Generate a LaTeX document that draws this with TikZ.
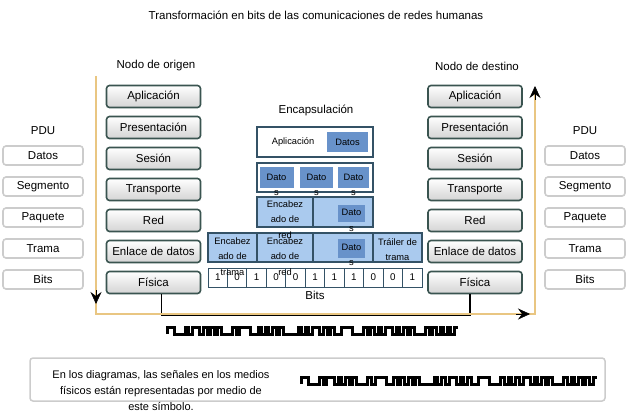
\documentclass[tikz,border=0pt]{standalone}
\usepackage{fontspec}
\setmainfont{Liberation Sans}
\usepackage{tikz}
\usetikzlibrary{positioning,calc,arrows.meta}
\definecolor{layerEdge}{RGB}{58,84,80}
\definecolor{pduEdge}{RGB}{204,204,204}
\definecolor{encEdge}{RGB}{52,82,102}
\definecolor{encLight}{RGB}{170,202,238}
\definecolor{encDark}{RGB}{104,146,202}
\definecolor{flowColor}{RGB}{233,198,130}
\newcommand{\sigbits}{1,1,0,0,0,1,0,1,1,0,1,0,1,0,1,0,0,0,1,0,1,1,1,0,0,1,0,1,0,1,0,1,0,0,0,0,1,0,1,0,1,1,0,1,0,1,0,0,1,1,1,0,0,0,1,0,1,0,1,0,1,1,0,1,0,1,0,1,0,0,0,1,0,1,0,1,0,1,0,1}
% signal symbol: start x, low level y, step
\newcommand{\drawsignal}[3]{%
  \draw[wave] (#1,#2) foreach \lv [count=\k] in \sigbits { |- ({#1+\k*#3},{#2-6.5*\lv}) };}
\tikzset{
    layer/.style={
        draw=layerEdge,
        line width=1.6pt,
        rounded corners=3pt,
        top color=white,
        bottom color=black!17,
        minimum width=94pt,
        minimum height=22pt,
        inner sep=1pt,
        font=\fontsize{11.5}{13}\selectfont
    },
    pdu/.style={
        draw=pduEdge,
        line width=1.6pt,
        rounded corners=3pt,
        fill=white,
        minimum width=80pt,
        minimum height=19pt,
        inner sep=1pt,
        font=\fontsize{11.5}{13}\selectfont
    },
    plain/.style={font=\fontsize{11.5}{13}\selectfont, inner sep=1pt},
    encbox/.style={draw=encEdge, line width=1.3pt, inner sep=0pt},
    datbox/.style={fill=encDark, inner sep=0pt},
    enctxt/.style={font=\fontsize{9.3}{15.5}\selectfont, align=center, inner sep=0pt},
    bitcell/.style={draw=encEdge, line width=0.9pt, fill=white, minimum width=19.45pt,
        minimum height=19pt, inner sep=0pt, font=\fontsize{9.8}{11}\selectfont},
    flow/.style={draw=flowColor, line width=2.6pt},
    tip/.style={black, line width=0.6pt, -{Stealth[length=12pt,width=11pt,inset=4pt]}},
    bitsline/.style={black, line width=1.3pt},
    wave/.style={black, line width=3pt, line join=miter},
    notebox/.style={draw=pduEdge, line width=1.5pt, rounded corners=3pt, fill=white}
}
\begin{document}
\begin{tikzpicture}[x=1pt, y=-1pt]
\useasboundingbox (0,0) rectangle (631,417);

\node[plain] (title) at (316,15) {Transformación en bits de las comunicaciones de redes humanas};
\node[plain] (srcLbl) at (156,66) {Nodo de origen};
\node[plain] (dstLbl) at (477,66) {Nodo de destino};

% origin and destination stacks
\node[layer] (appL) at (153.5,96.5) {Aplicación};
\node[layer, below=7.4pt of appL] (preL) {Presentación};
\node[layer, below=7.4pt of preL] (sesL) {Sesión};
\node[layer, below=7.4pt of sesL] (traL) {Transporte};
\node[layer, below=7.4pt of traL] (redL) {Red};
\node[layer, below=7.4pt of redL] (enlL) {Enlace de datos};
\node[layer, below=7.4pt of enlL] (fisL) {Física};

\node[layer] (appR) at (475,96.5) {Aplicación};
\node[layer, below=7.4pt of appR] (preR) {Presentación};
\node[layer, below=7.4pt of preR] (sesR) {Sesión};
\node[layer, below=7.4pt of sesR] (traR) {Transporte};
\node[layer, below=7.4pt of traR] (redR) {Red};
\node[layer, below=7.4pt of redR] (enlR) {Enlace de datos};
\node[layer, below=7.4pt of enlR] (fisR) {Física};

% PDU columns
\node[plain] (pduL) at (43,131) {PDU};
\node[pdu] (datL) at (43,155.5) {Datos};
\node[pdu, below=10.4pt of datL] (segL) {Segmento};
\node[pdu, below=10.4pt of segL] (paqL) {Paquete};
\node[pdu, below=10.4pt of paqL] (traPL) {Trama};
\node[pdu, below=10.4pt of traPL] (bitL) {Bits};

\node[plain] (pduR) at (585,131) {PDU};
\node[pdu] (datR) at (585,155.5) {Datos};
\node[pdu, below=10.4pt of datR] (segR) {Segmento};
\node[pdu, below=10.4pt of segR] (paqR) {Paquete};
\node[pdu, below=10.4pt of paqR] (traPR) {Trama};
\node[pdu, below=10.4pt of traPR] (bitR) {Bits};

% encapsulation
\node[plain] (encLbl) at (316,110) {Encapsulación};

\node[encbox, fill=white, minimum width=116pt, minimum height=30pt] (row1) at (315,142) {};
\node[datbox, minimum width=41pt, minimum height=20pt] (row1dat) at (347.5,142) {};

\node[encbox, fill=white, minimum width=116pt, minimum height=29pt] (row2) at (315,177.5) {};
\node[datbox, minimum width=34pt, minimum height=21pt] (seg1) at (276.5,177) {};
\node[datbox, minimum width=33pt, minimum height=21pt] (seg2) at (316.5,177) {};
\node[datbox, minimum width=31pt, minimum height=21pt] (seg3) at (353.5,177) {};

\node[encbox, fill=encLight, minimum width=56pt, minimum height=30pt] (pkHdr) at (285,212) {};
\node[encbox, fill=encLight, minimum width=60pt, minimum height=30pt] (pkData) at (343,212) {};
\node[datbox, minimum width=27pt, minimum height=17pt] (pkDat) at (351.5,213.5) {};

\node[encbox, fill=encLight, minimum width=49pt, minimum height=29pt] (frHdr) at (232.5,247.5) {};
\node[encbox, fill=encLight, minimum width=56pt, minimum height=29pt] (frRed) at (285,247.5) {};
\node[encbox, fill=encLight, minimum width=60pt, minimum height=29pt] (frData) at (343,247.5) {};
\node[encbox, fill=encLight, minimum width=49pt, minimum height=29pt] (frTrl) at (397.5,247.5) {};
\node[datbox, minimum width=27pt, minimum height=19pt] (frDat) at (351.5,248) {};

\foreach \b [count=\i] in {1,0,1,0,0,1,1,1,0,0,1}
    \node[bitcell] (bit\i) at ({208+(\i-0.5)*19.45},277.5) {\b};

% texts on top of the boxes
\node[enctxt] (row1txt) at (293,142) {Aplicación};
\node[enctxt] (row1datTxt) at (row1dat.center) {Datos};
\node[enctxt, yshift=-7.75pt] (seg1txt) at (seg1.center) {Dato\\s};
\node[enctxt, yshift=-7.75pt] (seg2txt) at (seg2.center) {Dato\\s};
\node[enctxt, yshift=-7.75pt] (seg3txt) at (seg3.center) {Dato\\s};
\node[enctxt] (pkHdrTxt) at (285,219.5) {Encabez\\ado de\\red};
\node[enctxt] (pkDatTxt) at (351.5,220.5) {Dato\\s};
\node[enctxt] (frHdrTxt) at (232.5,256.5) {Encabez\\ado de\\trama};
\node[enctxt] (frRedTxt) at (285,256.5) {Encabez\\ado de\\red};
\node[enctxt] (frDatTxt) at (351.5,255) {Dato\\s};
\node[enctxt] (frTrlTxt) at (397.5,249.5) {Tráiler de\\trama};

% bits between physical layers
\draw[bitsline] ([xshift=8pt]fisL.south) -- ++(0,21) -| ([xshift=-5pt]fisR.south);
\node[plain] (bitsLbl) at (315,295) {Bits};

% flow through the stacks
\coordinate (flowTop) at (96,76);
\coordinate (flowLB) at (96,314);
\coordinate (flowRB) at (535,314);
\coordinate (flowEnd) at (535,92);
\draw[flow] (flowTop) -- (flowLB) -- (flowRB) -- (flowEnd);
\coordinate (tipA) at (96,290);
\coordinate (tipB) at (96,304);
\coordinate (tipC) at (516,314);
\coordinate (tipD) at (530,314);
\coordinate (tipE) at (535,100);
\coordinate (tipF) at (535,86);
\draw[tip] (tipA) -- (tipB);
\draw[tip] (tipC) -- (tipD);
\draw[tip] (tipE) -- (tipF);

\drawsignal{167}{334}{3.64}

% note
\node[notebox, minimum width=575pt, minimum height=43pt] (note) at (317.5,379.5) {};
\node[enctxt, font=\fontsize{11}{16}\selectfont] (noteTxt) at (161,391) {En los diagramas, las señales en los medios\\físicos están representadas por medio de\\este símbolo.};
\drawsignal{301}{384}{3.7}
\end{tikzpicture}
\end{document}
